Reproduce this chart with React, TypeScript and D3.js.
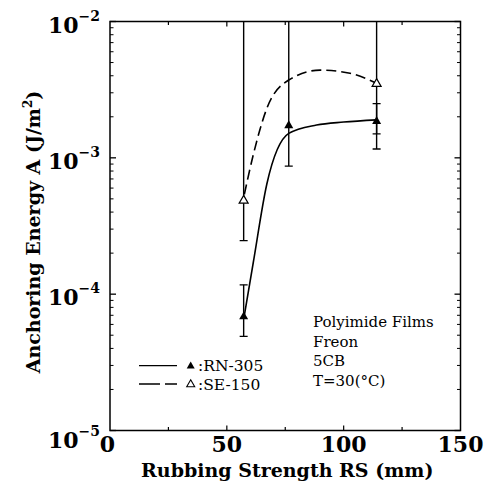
import React from "react";
import * as d3 from "d3";

const xTicks = [0, 50, 100, 150];
const xMinorTicks = [25, 50, 75, 100, 125];
const yDecades = [-2, -3, -4, -5];

// RN-305 (filled triangles): x, value, err low, err high
const rnX = [57.2, 76.5, 114.1];
const rnY = [6.9e-5, 1.74e-3, 1.87e-3];
const rnLo = [4.9e-5, 8.7e-4, 1.16e-3];
const rnHi = [1.17e-4, 2e-2, 2.5e-3];

// SE-150 (open triangles)
const seX = [57.2, 114.1];
const seY = [4.9e-4, 3.52e-3];
const seLo = [2.47e-4, 1.5e-3];
const seHi = [2e-2, 2e-2];

// fitted guide curves
const rnCurveX = [57.5, 61.3, 67.1, 76.5, 88.4, 100, 114.1];
const rnCurveY = [7.0e-5, 1.7e-4, 6.4e-4, 1.51e-3, 1.74e-3, 1.83e-3, 1.9e-3];
const seCurveX = [57.5, 61.3, 67.1, 76.5, 89.9, 102.7, 114.1];
const seCurveY = [5.4e-4, 1.05e-3, 2.3e-3, 3.72e-3, 4.4e-3, 4.17e-3, 3.52e-3];

const notes = ["Polyimide Films", "Freon", "5CB", "T=30(°C)"];
const legendNames = [":RN-305", ":SE-150"];

const W = 487, H = 491;
const L = 110, R = 460.5, T = 21.5, B = 430.5;

export default function App() {
  const x = d3.scaleLinear().domain([0, 150]).range([L, R]);
  const y = d3.scaleLog().domain([1e-5, 1e-2]).range([B, T]).clamp(true);
  const font = "'DejaVu Serif', serif";

  const minorY: number[] = [];
  for (let e = -5; e < -2; e++) for (let m = 2; m <= 9; m++) minorY.push(m * Math.pow(10, e));

  const line = d3.line<[number, number]>().x(d => x(d[0])).y(d => y(d[1])).curve(d3.curveMonotoneX);
  const rnPath = line(rnCurveX.map((v, i) => [v, rnCurveY[i]]))!;
  const sePath = line(seCurveX.map((v, i) => [v, seCurveY[i]]))!;

  const tri = (cx: number, cy: number, s = 9) => {
    const h = s * 0.87;
    return `M${cx},${cy - h * 0.6}L${cx + s / 2},${cy + h * 0.4}L${cx - s / 2},${cy + h * 0.4}Z`;
  };

  const errBar = (xv: number, lo: number, hi: number, key: string) => {
    const cx = x(xv);
    const y1 = y(lo), y2 = y(hi);
    return (
      <g key={key} stroke="#000" strokeWidth={1.4}>
        <line x1={cx} x2={cx} y1={y1} y2={y2} />
        <line x1={cx - 4} x2={cx + 4} y1={y1} y2={y1} />
        {hi < 1e-2 && <line x1={cx - 4} x2={cx + 4} y1={y2} y2={y2} />}
      </g>
    );
  };

  return (
    <svg width={W} height={H} style={{ position: "absolute", left: 0, top: 0, background: "#fff" }}>
      <rect x={0} y={0} width={W} height={H} fill="#fff" />
      {/* frame */}
      <rect x={L} y={T} width={R - L} height={B - T} fill="none" stroke="#000" strokeWidth={1.5} />
      {/* y ticks */}
      {yDecades.map(e => (
        <g key={"yd" + e} stroke="#000" strokeWidth={1.3}>
          <line x1={L} x2={L + 6} y1={y(Math.pow(10, e))} y2={y(Math.pow(10, e))} />
          <line x1={R} x2={R - 6} y1={y(Math.pow(10, e))} y2={y(Math.pow(10, e))} />
        </g>
      ))}
      {minorY.map((v, i) => (
        <g key={"ym" + i} stroke="#000" strokeWidth={1}>
          <line x1={L} x2={L + 3.5} y1={y(v)} y2={y(v)} />
          <line x1={R} x2={R - 3.5} y1={y(v)} y2={y(v)} />
        </g>
      ))}
      {/* x ticks */}
      {xMinorTicks.map(v => {
        const len = v % 50 === 0 ? 5 : 3.5;
        return (
          <g key={"xt" + v} stroke="#000" strokeWidth={1.2}>
            <line x1={x(v)} x2={x(v)} y1={B} y2={B - len} />
            <line x1={x(v)} x2={x(v)} y1={T} y2={T + len} />
          </g>
        );
      })}
      {/* y tick labels */}
      {yDecades.map(e => {
        const ty = y(Math.pow(10, e));
        return (
          <text key={"yl" + e} x={100} y={ty + (e === -5 ? 17 : 11)} textAnchor="end"
            fontFamily={font} fontWeight="bold" fontSize={22}>
            10<tspan fontSize={14} dy={-12}>{"−" + Math.abs(e)}</tspan>
          </text>
        );
      })}
      {/* x tick labels */}
      {xTicks.map(v => (
        <text key={"xl" + v} x={x(v) - (v === 0 ? 2.5 : 0)} y={452} textAnchor="middle"
          fontFamily={font} fontWeight="bold" fontSize={22}>{v}</text>
      ))}
      {/* axis titles */}
      <text x={(L + R) / 2 + 2} y={477} textAnchor="middle" fontFamily={font} fontWeight="bold" fontSize={19}>
        Rubbing Strength RS (mm)
      </text>
      <text transform={`translate(40,${232}) rotate(-90)`} textAnchor="middle" fontFamily={font} fontWeight="bold" fontSize={19}>
        Anchoring Energy A (J/m<tspan fontSize={12} dy={-8}>2</tspan><tspan dy={8}>)</tspan>
      </text>

      <defs>
        <clipPath id="plot"><rect x={L} y={T} width={R - L} height={B - T} /></clipPath>
      </defs>
      <g clipPath="url(#plot)">
        {rnX.map((v, i) => errBar(v, rnLo[i], rnHi[i], "re" + i))}
        {seX.map((v, i) => errBar(v, seLo[i], seHi[i], "se" + i))}
        <path d={rnPath} fill="none" stroke="#000" strokeWidth={1.6} />
        <path d={sePath} fill="none" stroke="#000" strokeWidth={1.6} strokeDasharray="10,5" />
        {rnX.map((v, i) => <path key={"rm" + i} d={tri(x(v), y(rnY[i]))} fill="#000" />)}
        {seX.map((v, i) => <path key={"sm" + i} d={tri(x(v), y(seY[i]))} fill="#fff" stroke="#000" strokeWidth={1.2} />)}
      </g>

      {/* legend */}
      <line x1={139} x2={177} y1={365.7} y2={365.7} stroke="#000" strokeWidth={1.3} />
      <line x1={139} x2={177} y1={384} y2={384} stroke="#000" strokeWidth={1.3} strokeDasharray="21,5,13" />
      <path d={tri(190.7, 365.7, 8)} fill="#000" />
      <path d={tri(190.7, 384, 8)} fill="#fff" stroke="#000" strokeWidth={1.1} />
      {legendNames.map((n, i) => (
        <text key={n} x={198} y={371 + i * 18.5} fontFamily={font} fontSize={15.5}>{n}</text>
      ))}
      {/* annotations */}
      {notes.map((n, i) => (
        <text key={n} x={313} y={327 + i * 19.7} fontFamily={font} fontSize={15}>{n}</text>
      ))}
    </svg>
  );
}
